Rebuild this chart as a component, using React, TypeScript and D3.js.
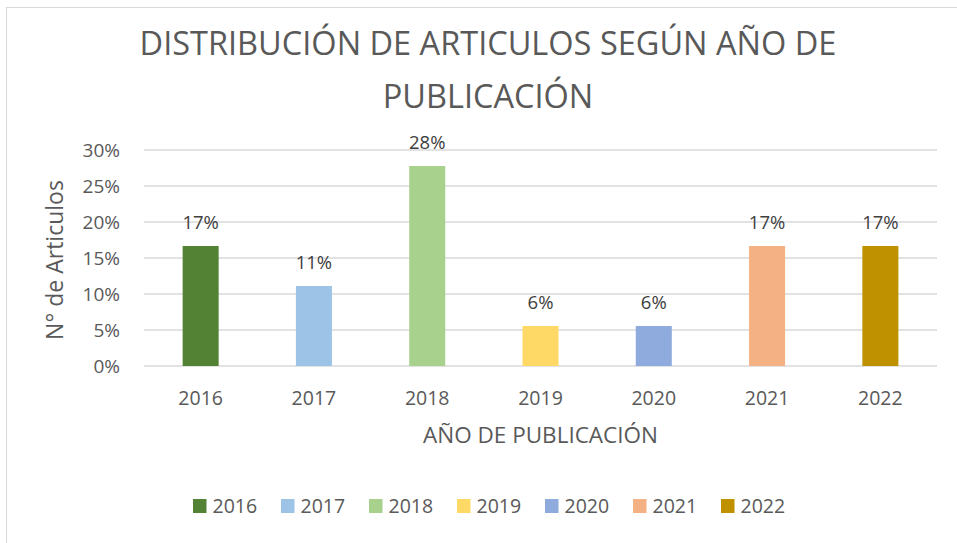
import * as d3 from "d3";

const years = ["2016", "2017", "2018", "2019", "2020", "2021", "2022"];
const shares = [3 / 18, 2 / 18, 5 / 18, 1 / 18, 1 / 18, 3 / 18, 3 / 18];
const colors = ["#548235", "#9dc3e6", "#a9d18e", "#ffd966", "#8faadc", "#f4b183", "#bf9000"];
const yTicks = [0, 0.05, 0.1, 0.15, 0.2, 0.25, 0.3];

const W = 957;
const H = 543;
const M = { top: 150, right: 20, bottom: 177, left: 144 };
const FONT = "'Open Sans', 'Noto Sans', sans-serif";

const App = () => {
  const x = d3
    .scaleBand()
    .domain(years)
    .range([M.left, W - M.right])
    .paddingInner(0.682)
    .paddingOuter(0.341);

  const y = d3.scaleLinear().domain([0, 0.3]).range([H - M.bottom, M.top]);
  const pct = d3.format(".0%");

  // legend layout
  const lgX = d3.scalePoint().domain(years).range([193, 193 + 88 * 6]);

  return (
    <div style={{ position: "absolute", left: 0, top: 0 }}>
      <svg width={W} height={H} style={{ display: "block", background: "#fff" }}>
        <rect x={6.5} y={7.5} width={W} height={H} fill="none" stroke="#d9d9d9" />

        <text x={488} y={55} textAnchor="middle" fontFamily={FONT} fontSize={32.5} fill="#595959">
          DISTRIBUCIÓN DE ARTICULOS SEGÚN AÑO DE
        </text>
        <text x={488} y={108} textAnchor="middle" fontFamily={FONT} fontSize={32.5} fill="#595959">
          PUBLICACIÓN
        </text>

        {yTicks.map((t) => (
          <g key={t}>
            <line x1={M.left} x2={W - M.right} y1={y(t)} y2={y(t)} stroke="#d9d9d9" strokeWidth={1.5} />
            <text
              x={120}
              y={y(t)}
              dy="0.36em"
              textAnchor="end"
              fontFamily={FONT}
              fontSize={19}
              fill="#595959"
            >
              {pct(t)}
            </text>
          </g>
        ))}

        {years.map((yr, i) => (
          <g key={yr}>
            <rect
              x={x(yr)}
              y={y(shares[i])}
              width={x.bandwidth()}
              height={y(0) - y(shares[i])}
              fill={colors[i]}
            />
            <text
              x={x(yr)! + x.bandwidth() / 2}
              y={y(shares[i]) - 17}
              textAnchor="middle"
              fontFamily={FONT}
              fontSize={18.5}
              fill="#404040"
            >
              {pct(shares[i])}
            </text>
            <text
              x={x(yr)! + x.bandwidth() / 2}
              y={405}
              textAnchor="middle"
              fontFamily={FONT}
              fontSize={19.5}
              fill="#595959"
            >
              {yr}
            </text>
          </g>
        ))}

        <text
          transform={`translate(63,260) rotate(-90)`}
          textAnchor="middle"
          fontFamily={FONT}
          fontSize={23}
          fill="#595959"
        >
          N° de Articulos
        </text>

        <text
          x={(M.left + W - M.right) / 2}
          y={443}
          textAnchor="middle"
          fontFamily={FONT}
          fontSize={22.5}
          fill="#595959"
        >
          AÑO DE PUBLICACIÓN
        </text>

        {years.map((yr, i) => (
          <g key={"lg" + yr} transform={`translate(${lgX(yr)},499)`}>
            <rect width={13.5} height={14} fill={colors[i]} />
            <text x={19.5} y={14} fontFamily={FONT} fontSize={19.5} fill="#595959">
              {yr}
            </text>
          </g>
        ))}
      </svg>
    </div>
  );
};

export default App;
